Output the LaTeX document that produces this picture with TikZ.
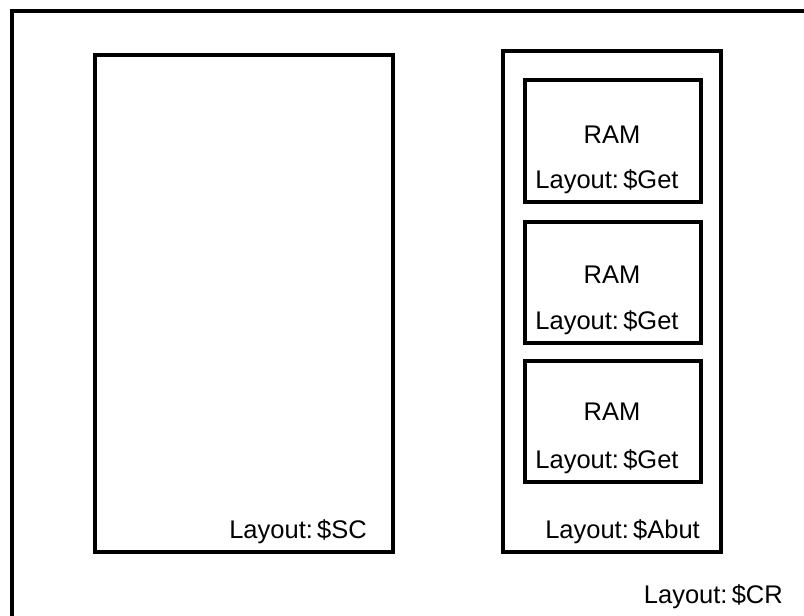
\documentclass[tikz,border=0pt]{standalone}
\usepackage{fontspec}
\setmainfont{Liberation Sans}
\begin{document}
\begin{tikzpicture}[x=1pt,y=-1pt,
  box/.style={draw, line width=3.2pt, inner sep=0pt},
  lbl/.style={font=\fontsize{25.5}{30}\selectfont, inner sep=0pt}]
\useasboundingbox (0,0) rectangle (804,616);
\clip (0,0) rectangle (804,616);
\coordinate (obl) at (12,640);
\coordinate (otl) at (12,11);
\coordinate (otr) at (830,11);
\draw[line width=3.2pt] (obl) -- (otl) -- (otr);
% SC box
\node[box, minimum width=298pt, minimum height=497pt] (sc) at (244,303.5) {};
\node[lbl, anchor=east] (sclbl) at (367,532) {Layout:\,\$SC};
% Abut box
\node[box, minimum width=218pt, minimum height=501pt] (abut) at (612,301.5) {};
\node[lbl, anchor=east] (abutlbl) at (700,532) {Layout:\,\$Abut};
% RAM boxes
\node[box, minimum width=176pt, minimum height=122pt] (ram1) at (613,141) {};
\node[box, minimum width=176pt, minimum height=121pt] (ram2) at (613,282.5) {};
\node[box, minimum width=176pt, minimum height=121pt] (ram3) at (613,421.5) {};
\node[lbl] (r1) at (612,135) {RAM};
\node[lbl] (g1) at (607,182) {Layout:\,\$Get};
\node[lbl] (r2) at (612,275) {RAM};
\node[lbl] (g2) at (607,323) {Layout:\,\$Get};
\node[lbl] (r3) at (612,412) {RAM};
\node[lbl] (g3) at (607,462) {Layout:\,\$Get};
\node[lbl, anchor=east] (crlbl) at (783,597) {Layout:\,\$CR};
\end{tikzpicture}
\end{document}
